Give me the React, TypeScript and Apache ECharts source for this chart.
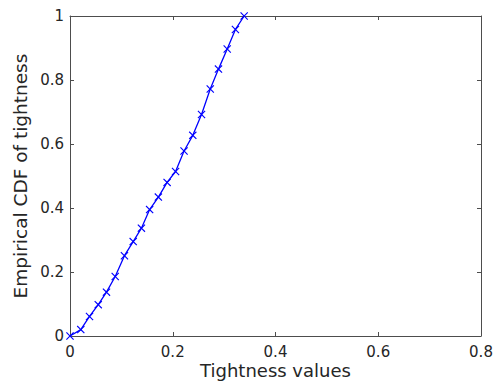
import React, { useEffect, useRef } from "react";
import * as echarts from "echarts";

const tightnessValues = [0, 0.021, 0.038, 0.055, 0.071, 0.088, 0.106, 0.123, 0.139, 0.155, 0.172, 0.189, 0.2055, 0.222, 0.239, 0.256, 0.273, 0.289, 0.306, 0.322, 0.339];
const cdfValues = [0, 0.02, 0.061, 0.098, 0.137, 0.186, 0.251, 0.295, 0.337, 0.395, 0.434, 0.48, 0.514, 0.578, 0.627, 0.692, 0.772, 0.834, 0.897, 0.958, 1.0];
const xTicks = [0, 0.2, 0.4, 0.6, 0.8];
const yTicks = [0, 0.2, 0.4, 0.6, 0.8, 1];

const FONT = "DejaVu Sans";
const TEXT = "#262626";
const AXIS = "#4d4d4d";
const XMARK = "path://M0,1 L1,0 L5,4 L9,0 L10,1 L6,5 L10,9 L9,10 L5,6 L1,10 L0,9 L4,5 Z";

export default function App() {
  const ref = useRef<HTMLDivElement>(null);
  useEffect(() => {
    if (!ref.current) return;
    const chart = echarts.init(ref.current, null, { renderer: "svg" });
    const axisCommon = {
      axisLine: { show: true, onZero: false, lineStyle: { color: AXIS, width: 1 } },
      axisTick: { show: true, inside: true, length: 4, lineStyle: { color: AXIS } },
      splitLine: { show: false },
    };
    const xMin = xTicks[0];
    const xMax = xTicks[xTicks.length - 1];
    const xInt = xTicks[1] - xTicks[0];
    const yMin = yTicks[0];
    const yMax = yTicks[yTicks.length - 1];
    const yInt = yTicks[1] - yTicks[0];
    chart.setOption({
      animation: false,
      grid: { left: 70, right: 14, top: 16, bottom: 45, containLabel: false, outerBoundsMode: "none" },
      xAxis: [
        {
          type: "value",
          min: xMin,
          max: xMax,
          interval: xInt,
          position: "bottom",
          ...axisCommon,
          axisLabel: { color: TEXT, fontFamily: FONT, fontSize: 15, margin: 8 },
          name: "Tightness values",
          nameLocation: "middle",
          nameGap: 25,
          nameMoveOverlap: false,
          nameTextStyle: { color: TEXT, fontFamily: FONT, fontSize: 18, lineHeight: 18 },
        },
        {
          type: "value",
          min: xMin,
          max: xMax,
          interval: xInt,
          position: "top",
          ...axisCommon,
          axisLabel: { show: false },
        },
      ],
      yAxis: [
        {
          type: "value",
          min: yMin,
          max: yMax,
          interval: yInt,
          position: "left",
          ...axisCommon,
          axisLabel: { color: TEXT, fontFamily: FONT, fontSize: 15, margin: 6 },
          name: "Empirical CDF of tightness",
          nameLocation: "middle",
          nameGap: 40,
          nameMoveOverlap: false,
          nameTextStyle: { color: TEXT, fontFamily: FONT, fontSize: 18.5 },
        },
        {
          type: "value",
          min: yMin,
          max: yMax,
          interval: yInt,
          position: "right",
          ...axisCommon,
          axisLabel: { show: false },
        },
      ],
      series: [
        {
          type: "line",
          xAxisIndex: 0,
          yAxisIndex: 0,
          data: tightnessValues.map((x, i) => [x, cdfValues[i]]),
          symbol: XMARK,
          symbolSize: 8,
          showSymbol: true,
          lineStyle: { color: "#0000ff", width: 1.3 },
          itemStyle: { color: "#0000ff" },
        },
      ],
    });
    return () => chart.dispose();
  }, []);
  return (
    <div
      ref={ref}
      style={{ position: "fixed", left: 0, top: 0, width: 495, height: 381, background: "#fff" }}
    />
  );
}
